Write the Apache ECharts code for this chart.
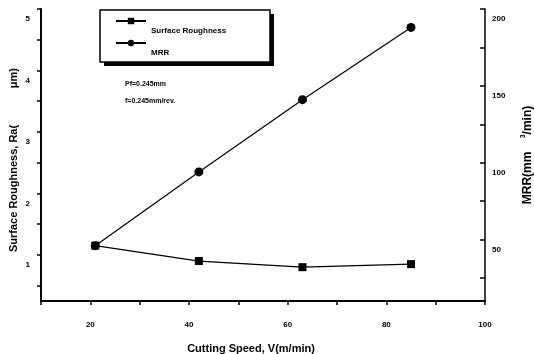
<!DOCTYPE html>
<html>
<head>
<meta charset="utf-8">
<script src="https://cdn.jsdelivr.net/npm/echarts@6/dist/echarts.min.js"></script>
<style>
  html, body { margin: 0; padding: 0; background: #fff; }
  #chart { width: 534px; height: 354px; }
</style>
</head>
<body>
<div id="chart"></div>
<script>
// cutting speed V (m/min)
const speeds = [21, 42, 63, 85];
// surface roughness Ra (um), left axis
const roughness = [1.15, 0.9, 0.8, 0.85];
// material removal rate (mm3/min), right axis
const mrr = [46, 94, 141, 188];

const leftLabels = [1, 2, 3, 4, 5];
const leftTicks = [0.5, 1, 1.5, 2, 2.5, 3, 3.5, 4, 4.5, 5];
const rightLabels = [50, 100, 150, 200];
const rightTicks = [25, 50, 75, 100, 125, 150, 175, 200];
const xLabels = [20, 40, 60, 80, 100];

const font = 'Liberation Sans, Arial, sans-serif';

const chart = echarts.init(document.getElementById('chart'), null, { renderer: 'canvas' });

const pairs = arr => speeds.map((s, i) => [s, arr[i]]);

const option = {
    animation: false,
    backgroundColor: '#fff',
    grid: { left: 41, right: 49, top: 9, bottom: 53, outerBoundsMode: 'none', containLabel: false },
    legend: {
        left: 115, top: 1,
        orient: 'vertical',
        itemWidth: 30, itemHeight: 8, itemGap: -18,
        padding: 0,
        formatter: name => '\n' + name,
        textStyle: { fontFamily: font, fontWeight: 'bold', fontSize: 8, color: '#000', lineHeight: 20 },
        data: ['Surface Roughness', 'MRR']
    },
    xAxis: {
        type: 'value', min: 10, max: 100, interval: 10,
        name: 'Cutting Speed, V(m/min)', nameLocation: 'middle', nameGap: 42,
        nameTextStyle: { fontFamily: font, fontWeight: 'bold', fontSize: 11, color: '#000', padding: [0, 24, 0, 0] },
        axisLine: { lineStyle: { color: '#000', width: 2 } },
        axisTick: { lineStyle: { color: '#000', width: 1.5 }, length: 4 },
        axisLabel: {
            fontFamily: font, fontWeight: 'bold', fontSize: 8, color: '#000', margin: 20,
            formatter: v => xLabels.includes(v) ? String(v) : ''
        },
        splitLine: { show: false }
    },
    yAxis: [{
        type: 'value', min: 0.25, max: 5, position: 'left',
        name: 'Surface Roughness, Ra(            μm)', nameLocation: 'middle', nameGap: 22, nameRotate: 90,
        nameMoveOverlap: false,
        nameTextStyle: { fontFamily: font, fontWeight: 'bold', fontSize: 11, color: '#000', padding: [0, 10, 0, 0] },
        axisLine: { show: true, lineStyle: { color: '#000', width: 2 } },
        axisTick: { show: true, customValues: leftTicks, length: 4, lineStyle: { color: '#000', width: 1.5 } },
        axisLabel: {
            customValues: leftLabels, fontFamily: font, fontWeight: 'bold', fontSize: 8, color: '#000',
            margin: 11, verticalAlign: 'top', padding: [6, 0, 0, 0]
        },
        splitLine: { show: false }
    }, {
        type: 'value', min: 10, max: 200, position: 'right',
        name: 'MRR(mm    {sup|3}/min)', nameLocation: 'middle', nameGap: 35, nameRotate: 90,
        nameMoveOverlap: false,
        nameTextStyle: {
            fontFamily: font, fontWeight: 'bold', fontSize: 12, color: '#000',
            rich: { sup: { fontFamily: font, fontWeight: 'bold', fontSize: 7, color: '#000', verticalAlign: 'top', padding: [0, 0, 9, 0] } }
        },
        axisLine: { show: true, lineStyle: { color: '#000', width: 1.5 } },
        axisTick: { show: true, inside: true, customValues: rightTicks, length: 5, lineStyle: { color: '#000', width: 1.5 } },
        axisLabel: {
            customValues: rightLabels, fontFamily: font, fontWeight: 'bold', fontSize: 8, color: '#000',
            margin: 7, verticalAlign: 'top', padding: [6, 0, 0, 0]
        },
        splitLine: { show: false }
    }],
    graphic: [{
        type: 'rect', z: 3, shape: { x: 104, y: 14, width: 170, height: 52 },
        style: { fill: '#000' }
    }, {
        type: 'rect', z: 3, shape: { x: 100, y: 10, width: 170, height: 52 },
        style: { fill: '#fff', stroke: '#000', lineWidth: 1.5 }
    }, {
        type: 'text', left: 125, top: 81,
        style: { text: 'Pf=0.245mm', font: 'bold 7px ' + font, fill: '#000' }
    }, {
        type: 'text', left: 125, top: 98,
        style: { text: 'f=0.245mm/rev.', font: 'bold 7px ' + font, fill: '#000' }
    }],
    series: [{
        name: 'Surface Roughness', type: 'line', yAxisIndex: 0,
        data: pairs(roughness),
        symbol: 'rect', symbolSize: 8,
        itemStyle: { color: '#000' },
        lineStyle: { color: '#000', width: 1.2 }
    }, {
        name: 'MRR', type: 'line', yAxisIndex: 1,
        data: pairs(mrr),
        symbol: 'circle', symbolSize: 9,
        itemStyle: { color: '#000' },
        lineStyle: { color: '#000', width: 1.2 }
    }]
};

chart.setOption(option);
</script>
</body>
</html>
